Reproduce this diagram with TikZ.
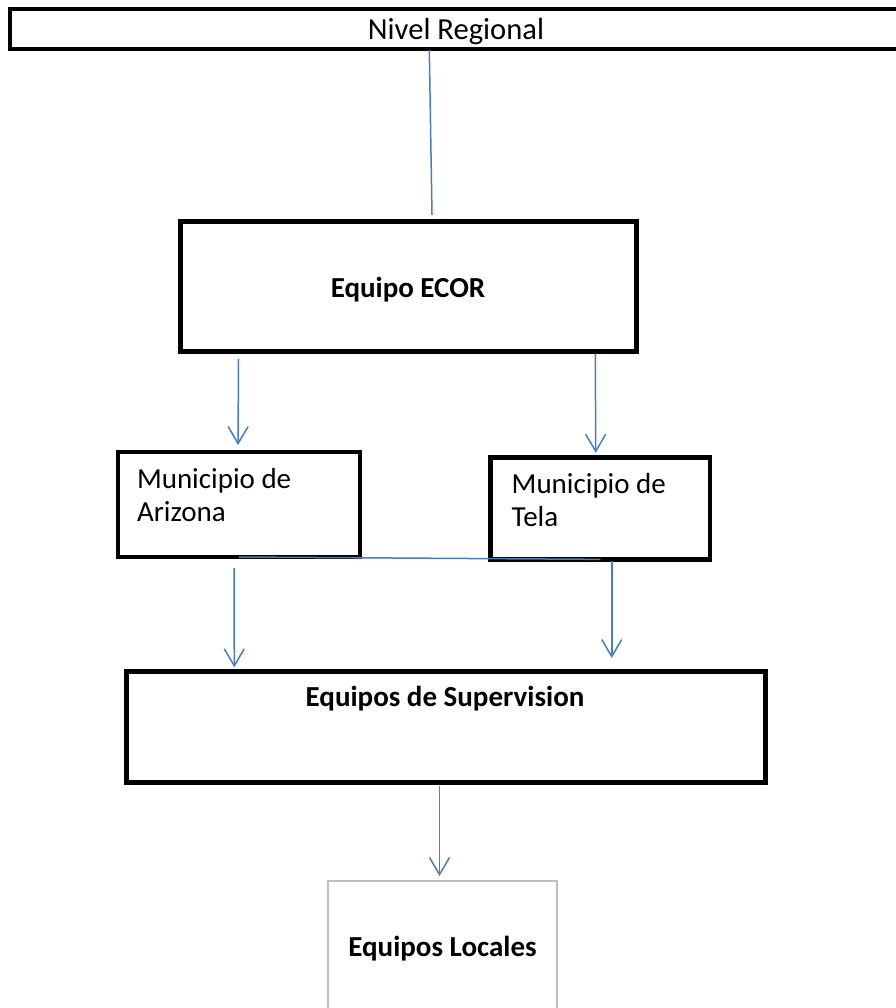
\documentclass[tikz,border=0pt]{standalone}
\usepackage{fontspec}
\setmainfont{Carlito}
\usetikzlibrary{arrows.meta,calc}
\definecolor{linkblue}{HTML}{4A7EBB}
\definecolor{lightframe}{HTML}{BFBFBF}
\tikzset{
  frame/.style={draw=black, line width=#1, rectangle, inner sep=0pt, outer sep=0pt, fill=white},
  frame/.default=4.6pt,
  txt/.style={inner sep=0pt, outer sep=0pt, font=\fontsize{29}{33}\selectfont},
  boldtxt/.style={txt, font=\fontsize{29}{33}\selectfont\bfseries},
  conn/.style={draw=linkblue, line width=1.5pt},
  arr/.style={conn, -{Straight Barb[length=17pt,width=20pt,line width=1.5pt]}}
}
\begin{document}
\begin{tikzpicture}[x=1pt,y=-1pt]
\useasboundingbox (0,0) rectangle (895,1008);

% boxes
\node[frame=4pt, minimum width=896pt, minimum height=39.4pt] (top) at (458,29) {};
\node[frame=5pt, minimum width=456pt, minimum height=129.5pt] (ecor) at (408,286.75) {};
\node[frame, minimum width=242pt, minimum height=105pt] (arizona) at (239,504.5) {};
\node[frame, minimum width=219.5pt, minimum height=102pt] (tela) at (600.25,508.35) {};
\node[frame=5pt, minimum width=638.5pt, minimum height=111pt] (sup) at (445.75,727) {};
\node[frame=1.5pt, draw=lightframe, minimum width=229pt, minimum height=135pt] (local) at (442.5,948.5) {};

% texts
\node[txt, font=\fontsize{30.6}{33}\selectfont, anchor=base] (tnivel) at (456,40) {Nivel Regional};
\node[boldtxt, anchor=base] (tecor) at (408,297) {Equipo ECOR};
\node[txt, anchor=base west] (tariz1) at (137,488) {Municipio de};
\node[txt, anchor=base west] (tariz2) at (137,521) {Arizona};
\node[txt, anchor=base west] (ttela1) at (511.7,493) {Municipio de};
\node[txt, anchor=base west] (ttela2) at (511.7,526) {Tela};
\node[boldtxt, anchor=base] (tsup) at (445,706) {Equipos de Supervision};
\node[boldtxt, anchor=base] (tlocal) at (442.5,956.7) {Equipos Locales};

% connectors
\draw[conn] ($(top.south)+(-28.7,1.3)$) -- ($(ecor.north)+(24,-7)$);
\draw[arr] ($(arizona.north |- ecor.south)+(-0.5,7.5)$) -- ($(arizona.north)+(-1,-7)$);
\draw[arr] ($(tela.north |- ecor.south)+(-5,2)$) -- ($(tela.north)+(-4.5,-4.6)$);
\draw[conn] (arizona.south) -- (tela.south);
\draw[arr] ($(arizona.south)+(-5,11)$) -- ($(sup.north -| arizona.south)+(-4.7,-4.2)$);
\draw[arr] ($(tela.south)+(11.5,1.3)$) -- ($(sup.north -| tela.south)+(11.5,-13.5)$);
\draw[arr] ($(local.north |- sup.south)+(-3,3.5)$) -- ($(local.north)+(-3,-5)$);
\end{tikzpicture}
\end{document}
